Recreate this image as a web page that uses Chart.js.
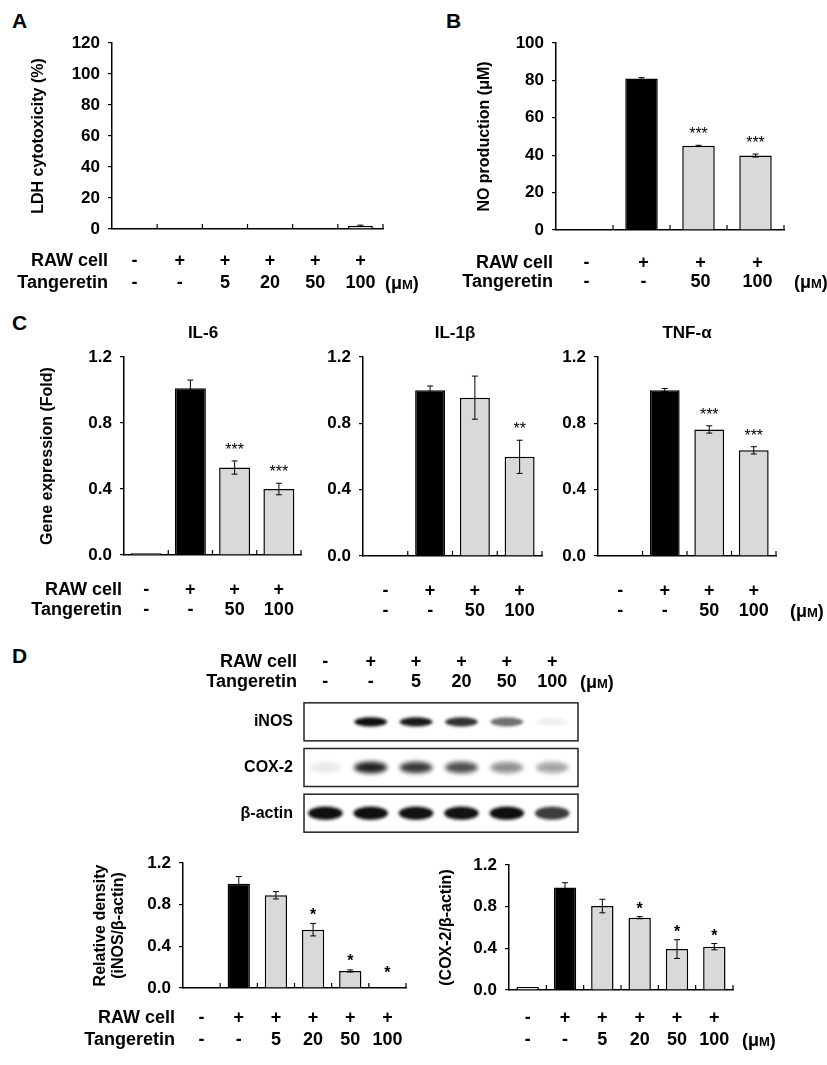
<!DOCTYPE html>
<html>
<head>
<meta charset="utf-8">
<script src="https://cdn.jsdelivr.net/npm/chart.js@4.4.1/dist/chart.umd.min.js"></script>
<style>
    body { margin: 0; background: #fff; width: 827px; height: 1065px; position: relative; overflow: hidden; font-family: "Liberation Sans", Arial, sans-serif; }
    canvas { position: absolute; left: 0; top: 0; }
    .letter { position: absolute; font-weight: bold; font-size: 21px; line-height: 21px; }
</style>
</head>
<body>
<div class="letter" style="left:12px;top:10px">A</div>
<div class="letter" style="left:446px;top:10px">B</div>
<div class="letter" style="left:12px;top:312px">C</div>
<div class="letter" style="left:12px;top:645px">D</div>

<canvas id="cA" width="827" height="1065"></canvas>
<canvas id="cB" width="827" height="1065"></canvas>
<canvas id="cIL6" width="827" height="1065"></canvas>
<canvas id="cIL1" width="827" height="1065"></canvas>
<canvas id="cTNF" width="827" height="1065"></canvas>
<canvas id="cBlot" width="827" height="1065"></canvas>
<canvas id="cINOS" width="827" height="1065"></canvas>
<canvas id="cCOX" width="827" height="1065"></canvas>

<script>
// ---------- data ----------
const rawSix = ['-', '+', '+', '+', '+', '+'];
const tangSix = ['-', '-', '5', '20', '50', '100'];
const rawFour = ['-', '+', '+', '+'];
const tangFour = ['-', '-', '50', '100'];
const rowHeads = ['RAW cell', 'Tangeretin'];

const ldhValues = [0, 0, 0, 0, 0, 2.1];
const ldhErrors = [0, 0, 0, 0, 0, 0.4];
const ldhTicks = [0, 20, 40, 60, 80, 100, 120];

const noValues = [0, 81.0, 45.0, 39.8];
const noErrors = [0, 0.5, 0.3, 0.8];
const noStars = ['', '', '***', '***'];
const noTicks = [0, 20, 40, 60, 80, 100];

const foldTicks = [0, 0.4, 0.8, 1.2];
const il6Values = [0.01, 1.01, 0.53, 0.40];
const il6Errors = [0, 0.05, 0.04, 0.035];
const il6Stars = ['', '', '***', '***'];
const il1bValues = [0, 1.0, 0.955, 0.598];
const il1bErrors = [0, 0.025, 0.13, 0.10];
const il1bStars = ['', '', '', '**'];
const tnfValues = [0, 1.0, 0.763, 0.637];
const tnfErrors = [0, 0.01, 0.022, 0.022];
const tnfStars = ['', '', '***', '***'];

const blotLabels = ['iNOS', 'COX-2', 'β-actin'];
const inosBands = [0, 0.97, 0.9, 0.78, 0.5, 0.05];
const coxBands = [0.07, 0.88, 0.75, 0.65, 0.38, 0.3];
const actinBands = [0.97, 0.97, 0.95, 0.95, 0.98, 0.72];

const inosDensity = [0, 1.0, 0.89, 0.56, 0.164, 0];
const inosDensityErr = [0, 0.07, 0.035, 0.06, 0.01, 0];
const inosStars = ['', '', '', '*', '*', '*'];
const coxDensity = [0.03, 0.985, 0.806, 0.694, 0.393, 0.416];
const coxDensityErr = [0, 0.045, 0.065, 0.01, 0.09, 0.03];
const coxStars = ['', '', '', '*', '*', '*'];

// ---------- shared ----------
const FAMILY = '"Liberation Sans", Arial, sans-serif';
const LABEL_SIZE = 18;
Chart.defaults.font.family = FAMILY;
Chart.defaults.color = '#000';

// moves the padding until the plot area sits on the wanted box
function place(chart, pad, box) {
    for (let k = 0; k < 2; k++) {
        const a = chart.chartArea;
        pad.left += box.left - a.left;
        pad.top += box.top - a.top;
        pad.right += a.right - box.right;
        pad.bottom += a.bottom - box.bottom;
        chart.update('none');
    }
}

// "(μM)" with a small capital M, as in the figure
function drawUnit(ctx, x, y) {
    const big = 'bold ' + LABEL_SIZE + 'px ' + FAMILY;
    const small = 'bold ' + (LABEL_SIZE - 5) + 'px ' + FAMILY;
    ctx.textAlign = 'left';
    ctx.textBaseline = 'alphabetic';
    const base = y + 6;
    ctx.font = big;
    ctx.fillText('(μ', x, base);
    x += ctx.measureText('(μ').width;
    ctx.font = small;
    ctx.fillText('M', x, base);
    x += ctx.measureText('M').width;
    ctx.font = big;
    ctx.fillText(')', x, base);
}

function labelRows(opt) {
    return {
        id: 'labelRows',
        afterDraw(chart) {
            const { ctx, chartArea } = chart;
            const x = chart.scales.x;
            ctx.save();
            ctx.fillStyle = '#000';
            let lastY = 0;
            opt.rows.forEach((row, r) => {
                const yy = (opt.fromTop ? chartArea.top : chartArea.bottom) + opt.dy[r];
                lastY = yy;
                ctx.font = 'bold ' + LABEL_SIZE + 'px ' + FAMILY;
                ctx.textBaseline = 'middle';
                if (opt.heads) {
                    ctx.textAlign = 'right';
                    ctx.fillText(opt.heads[r], opt.headX, yy);
                }
                ctx.textAlign = 'center';
                row.forEach((t, i) => ctx.fillText(t, x.getPixelForValue(i) + (opt.dx || 0), yy));
            });
            if (opt.unitX) drawUnit(ctx, opt.unitX, lastY);
            if (opt.title) {
                ctx.font = 'bold 17px ' + FAMILY;
                ctx.textAlign = 'center';
                ctx.textBaseline = 'middle';
                ctx.fillText(opt.title, opt.titleX, chartArea.top - 24);
            }
            ctx.restore();
        }
    };
}

function barMarks(cfg) {
    return {
        id: 'barMarks',
        afterDatasetsDraw(chart) {
            const { ctx, chartArea } = chart;
            const x = chart.scales.x, y = chart.scales.y;
            const bars = chart.getDatasetMeta(0).data;
            const n = cfg.values.length;
            ctx.save();
            ctx.strokeStyle = '#000';
            ctx.lineWidth = 1.2;
            // small inward ticks between the groups
            for (let i = 1; i <= n; i++) {
                const bx = i < n ? (x.getPixelForValue(i - 1) + x.getPixelForValue(i)) / 2 : chartArea.right;
                ctx.beginPath();
                ctx.moveTo(bx, chartArea.bottom);
                ctx.lineTo(bx, chartArea.bottom - 5);
                ctx.stroke();
            }
            ctx.lineWidth = 1;
            bars.forEach((bar, i) => {
                const v = cfg.values[i];
                const e = cfg.errors[i] || 0;
                if (e > 0) {
                    const t = y.getPixelForValue(v + e);
                    const b = y.getPixelForValue(Math.max(v - e, 0));
                    ctx.beginPath();
                    ctx.moveTo(bar.x, t); ctx.lineTo(bar.x, b);
                    ctx.moveTo(bar.x - 3, t); ctx.lineTo(bar.x + 3, t);
                    ctx.moveTo(bar.x - 3, b); ctx.lineTo(bar.x + 3, b);
                    ctx.stroke();
                }
                const s = cfg.stars && cfg.stars[i];
                if (s) {
                    ctx.font = cfg.starFont || '16px ' + FAMILY;
                    ctx.textAlign = 'center';
                    ctx.textBaseline = 'alphabetic';
                    ctx.fillStyle = '#000';
                    const m = ctx.measureText(s);
                    const cy = y.getPixelForValue(Math.max(v + e, cfg.starFloor || 0)) - cfg.starGap;
                    ctx.fillText(s, bar.x, cy + (m.actualBoundingBoxAscent - m.actualBoundingBoxDescent) / 2);
                }
            });
            ctx.restore();
        }
    };
}

function barChart(id, cfg) {
    const pad = {
        left: cfg.box.left - cfg.yWidth,
        top: cfg.box.top,
        right: 827 - cfg.box.right,
        bottom: 1065 - cfg.box.bottom
    };
    const chart = new Chart(document.getElementById(id), {
        type: 'bar',
        data: {
            labels: cfg.values.map((v, i) => String(i)),
            datasets: [{
                data: cfg.values,
                backgroundColor: cfg.values.map((v, i) => i === 0 ? '#ffffff' : (i === 1 ? '#000000' : '#d9d9d9')),
                borderColor: '#000',
                borderWidth: 1.5,
                barPercentage: cfg.barPct,
                categoryPercentage: 1
            }]
        },
        options: {
            responsive: false,
            animation: false,
            events: [],
            layout: { padding: pad },
            plugins: { legend: { display: false }, tooltip: { enabled: false } },
            scales: {
                x: {
                    grid: { display: false },
                    ticks: { display: false },
                    border: { color: '#000', width: 1.5 }
                },
                y: {
                    min: cfg.ticks[0],
                    max: cfg.ticks[cfg.ticks.length - 1],
                    afterBuildTicks: s => { s.ticks = cfg.ticks.map(v => ({ value: v })); },
                    afterFit: s => { s.width = cfg.yWidth; },
                    ticks: {
                        font: { size: 17, weight: 'bold' },
                        padding: 8,
                        callback: v => v.toFixed(cfg.decimals)
                    },
                    grid: { drawOnChartArea: false, tickLength: 4, color: '#000', lineWidth: 1.2 },
                    border: { color: '#000', width: 1.5 },
                    title: {
                        display: !!cfg.yTitle,
                        text: cfg.yTitle || '',
                        padding: 0,
                        font: { size: 16, weight: 'bold', lineHeight: 1.1 }
                    }
                }
            }
        },
        plugins: [barMarks(cfg), labelRows(cfg.labels)]
    });
    place(chart, pad, cfg.box);
    return chart;
}

// ---------- A ----------
barChart('cA', {
    box: { left: 112, top: 43, right: 383, bottom: 229 },
    yWidth: 82, yTitle: 'LDH cytotoxicity (%)',
    values: ldhValues, errors: ldhErrors, ticks: ldhTicks, decimals: 0, barPct: 0.55,
    labels: { rows: [rawSix, tangSix], heads: rowHeads, headX: 108, dy: [32, 54], unitX: 385 }
});

// ---------- B ----------
barChart('cB', {
    box: { left: 556, top: 43, right: 784, bottom: 230 },
    yWidth: 80, yTitle: 'NO production (μM)',
    values: noValues, errors: noErrors, stars: noStars, starGap: 15,
    ticks: noTicks, decimals: 0, barPct: 0.57,
    labels: { rows: [rawFour, tangFour], heads: rowHeads, headX: 553, dy: [33, 52], dx: 2, unitX: 794 }
});

// ---------- C ----------
barChart('cIL6', {
    box: { left: 124, top: 357, right: 301, bottom: 555 },
    yWidth: 85, yTitle: 'Gene expression (Fold)',
    values: il6Values, errors: il6Errors, stars: il6Stars, starGap: 15,
    ticks: foldTicks, decimals: 1, barPct: 0.7,
    labels: { rows: [rawFour, tangFour], heads: rowHeads, headX: 122, dy: [35, 55], title: 'IL-6', titleX: 203 }
});
barChart('cIL1', {
    box: { left: 363, top: 357, right: 542, bottom: 556 },
    yWidth: 50,
    values: il1bValues, errors: il1bErrors, stars: il1bStars, starGap: 15,
    ticks: foldTicks, decimals: 1, barPct: 0.67,
    labels: { rows: [rawFour, tangFour], dy: [35, 55], title: 'IL-1β', titleX: 455 }
});
barChart('cTNF', {
    box: { left: 598, top: 357, right: 776, bottom: 556 },
    yWidth: 50,
    values: tnfValues, errors: tnfErrors, stars: tnfStars, starGap: 15,
    ticks: foldTicks, decimals: 1, barPct: 0.67,
    labels: { rows: [rawFour, tangFour], dy: [35, 55], unitX: 790, title: 'TNF-α', titleX: 687 }
});

// ---------- D : blot ----------
const bandRows = [inosBands, coxBands, actinBands];
const bandShape = [
    { w: 31, h: 8, blur: 1.1 },
    { w: 31, h: 10, blur: 2.0 },
    { w: 33, h: 12, blur: 1.3 }
];
const bandCache = {};
function bandImage(p) {
    const key = p.row + '_' + p.v;
    if (bandCache[key]) return bandCache[key];
    const sh = bandShape[p.row];
    const c = document.createElement('canvas');
    c.width = sh.w + 16;
    c.height = sh.h + 16;
    const g = c.getContext('2d');
    g.filter = 'blur(' + sh.blur + 'px)';
    g.fillStyle = 'rgba(20,20,20,' + (p.v * 0.35) + ')';
    g.beginPath();
    g.ellipse(c.width / 2, c.height / 2, sh.w / 2 + 2, sh.h / 2 + 2, 0, 0, Math.PI * 2);
    g.fill();
    g.fillStyle = 'rgba(10,10,10,' + p.v + ')';
    g.beginPath();
    g.ellipse(c.width / 2, c.height / 2, sh.w / 2, sh.h / 2, 0, 0, Math.PI * 2);
    g.fill();
    bandCache[key] = c;
    return c;
}

const bandPoints = [];
bandRows.forEach((row, r) => row.forEach((v, i) => bandPoints.push({ x: i, y: blotLabels[r], v: v, row: r })));

const blotBox = { left: 304, top: 699, right: 578, bottom: 836 };
const blotPad = { left: blotBox.left - 80, top: blotBox.top, right: 827 - blotBox.right, bottom: 1065 - blotBox.bottom };
const blot = new Chart(document.getElementById('cBlot'), {
    type: 'scatter',
    data: {
        datasets: [{
            data: bandPoints,
            pointStyle: c => (c.raw ? bandImage(c.raw) : 'circle'),
            radius: 3
        }]
    },
    options: {
        responsive: false,
        animation: false,
        events: [],
        layout: { padding: blotPad },
        plugins: { legend: { display: false }, tooltip: { enabled: false } },
        scales: {
            x: { type: 'linear', min: -0.47, max: 5.57, display: false },
            y: {
                type: 'category',
                labels: blotLabels,
                offset: true,
                afterFit: s => { s.width = 80; },
                grid: { display: false, drawTicks: false },
                border: { display: false },
                ticks: { font: { size: 16, weight: 'bold' }, padding: 11 }
            }
        }
    },
    plugins: [{
        id: 'blotFrames',
        beforeDatasetsDraw(chart) {
            const { ctx, chartArea } = chart;
            const y = chart.scales.y;
            ctx.save();
            ctx.strokeStyle = '#222';
            ctx.lineWidth = 1.5;
            blotLabels.forEach((l, r) => {
                const yc = y.getPixelForValue(r);
                ctx.strokeRect(chartArea.left, yc - 19, chartArea.right - chartArea.left, 38);
            });
            ctx.restore();
        }
    }, labelRows({ rows: [rawSix, tangSix], heads: rowHeads, headX: 297, fromTop: true, dy: [-37, -17], unitX: 580 })]
});
place(blot, blotPad, blotBox);

// ---------- D : densitometry ----------
barChart('cINOS', {
    box: { left: 183, top: 863, right: 406, bottom: 988 },
    yWidth: 91, yTitle: ['Relative density', '(iNOS/β-actin)'],
    values: inosDensity, errors: inosDensityErr, stars: inosStars,
    starGap: 12, starFloor: 0.06, starFont: 'bold 16px ' + FAMILY,
    ticks: foldTicks, decimals: 1, barPct: 0.6,
    labels: { rows: [rawSix, tangSix], heads: rowHeads, headX: 175, dy: [30, 52] }
});
barChart('cCOX', {
    box: { left: 509, top: 865, right: 733, bottom: 990 },
    yWidth: 71, yTitle: '(COX-2/β-actin)',
    values: coxDensity, errors: coxDensityErr, stars: coxStars,
    starGap: 11, starFont: 'bold 16px ' + FAMILY,
    ticks: foldTicks, decimals: 1, barPct: 0.6,
    labels: { rows: [rawSix, tangSix], dy: [28, 50], unitX: 742 }
});
</script>
</body>
</html>
